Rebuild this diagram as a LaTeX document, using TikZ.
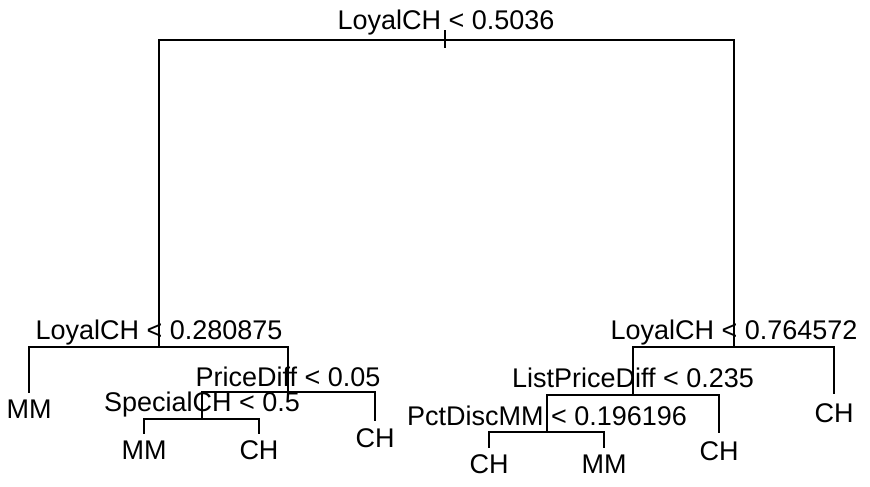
\documentclass[tikz,border=0pt]{standalone}
\usepackage{fontspec}
\setmainfont{Liberation Sans}
\begin{document}
\begin{tikzpicture}[x=1pt,y=-1pt,
  edge/.style={draw=black,line width=1.6pt,line cap=rect},
  lab/.style={anchor=base,inner sep=0pt,outer sep=0pt,font=\fontsize{27}{30}\selectfont}]
\useasboundingbox (0,0) rectangle (870,487);
% split points and leaf tips
\coordinate (t1a) at (445,31);
\coordinate (t1b) at (445,47);
\coordinate (n1) at (445,40);
\coordinate (n2) at (159,347);
\coordinate (n3) at (734,347);
\coordinate (l1) at (29,392);
\coordinate (n4) at (288,392);
\coordinate (n5) at (202,419);
\coordinate (l2) at (375,420);
\coordinate (l3) at (144,433);
\coordinate (l4) at (259,433);
\coordinate (n6) at (633,395);
\coordinate (l5) at (834,393);
\coordinate (n7) at (547,432);
\coordinate (l6) at (719,432);
\coordinate (l7) at (489,447);
\coordinate (l8) at (604,447);
% connectors
\draw[edge] (t1a) -- (t1b);
\draw[edge] (n1) -| (n2);
\draw[edge] (n1) -| (n3);
\draw[edge] (n2) -| (l1);
\draw[edge] (n2) -| (n4);
\draw[edge] (n4) -| (n5);
\draw[edge] (n4) -| (l2);
\draw[edge] (n5) -| (l3);
\draw[edge] (n5) -| (l4);
\draw[edge] (n3) -| (n6);
\draw[edge] (n3) -| (l5);
\draw[edge] (n6) -| (n7);
\draw[edge] (n6) -| (l6);
\draw[edge] (n7) -| (l7);
\draw[edge] (n7) -| (l8);
% split labels
\node[lab] (s1) at (446,30) {LoyalCH < 0.5036};
\node[lab] (s2) at (159,339) {LoyalCH < 0.280875};
\node[lab] (s3) at (734,339) {LoyalCH < 0.764572};
\node[lab] (s4) at (288,386) {PriceDiff < 0.05};
\node[lab] (s5) at (202,411) {SpecialCH < 0.5};
\node[lab] (s6) at (633,387) {ListPriceDiff < 0.235};
\node[lab] (s7) at (547,425) {PctDiscMM < 0.196196};
% leaf labels
\node[lab] (m1) at (29,418) {MM};
\node[lab] (m2) at (375,447) {CH};
\node[lab] (m3) at (144,459) {MM};
\node[lab] (m4) at (259,459) {CH};
\node[lab] (m5) at (834,422) {CH};
\node[lab] (m6) at (719,460) {CH};
\node[lab] (m7) at (489,473) {CH};
\node[lab] (m8) at (604,473) {MM};
\end{tikzpicture}
\end{document}
